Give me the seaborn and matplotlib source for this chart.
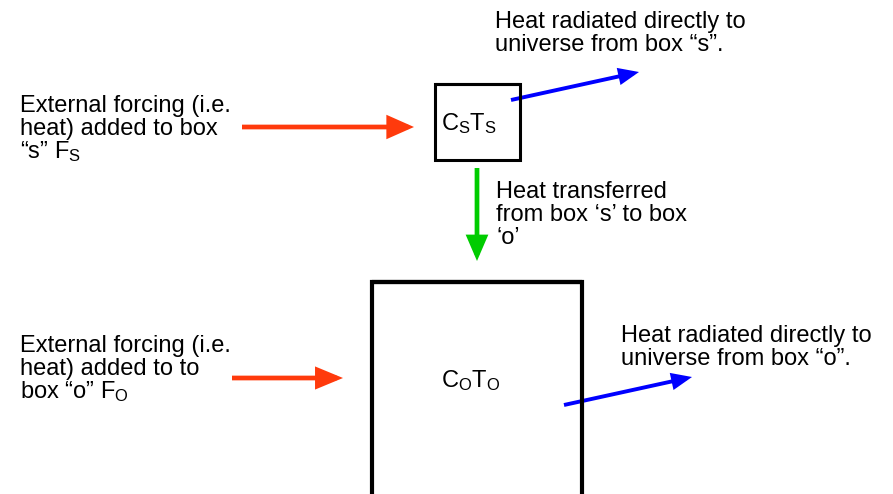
import matplotlib
matplotlib.use("Agg")
import matplotlib.pyplot as plt
import seaborn as sns
from matplotlib.patches import FancyArrowPatch

# diagram content (pixel coordinates of the 893x494 canvas)
box_names = ["s", "o"]
box_rects = [(434.5, 84.5, 85, 76), (372, 282, 210, 240)]
box_widths = [2.2, 3.0]
box_labels = [r"$\mathrm{C_ST_S}$", r"$\mathrm{C_OT_O}$"]
box_label_pos = [(441, 130), (441, 387)]

arrow_starts = [(242, 127), (232, 378), (477, 168), (511, 100), (564, 405)]
arrow_ends = [(414, 127), (343, 378), (477, 261), (639, 72), (692, 377)]
arrow_colors = ["#ff3a0c", "#ff3a0c", "#00cc00", "#0000ff", "#0000ff"]
arrow_lw = [3.4, 3.4, 3.4, 2.8, 2.8]
arrow_heads = [(14, 6.2), (14, 5.8), (13, 5.6), (10, 4.2), (10, 4.2)]

text_lines = [
    ["External forcing (i.e.", "heat) added to box", r"“s” $\mathrm{F_S}$"],
    ["External forcing (i.e.", "heat) added to to", r"box “o” $\mathrm{F_O}$"],
    ["Heat radiated directly to", "universe from box “s”."],
    ["Heat transferred", "from box ‘s’ to box", "‘o’"],
    ["Heat radiated directly to", "universe from box “o”."],
]
text_origin = [(20, 112), (20, 352), (495, 28), (496, 198), (621, 342)]
line_step = 23

sns.set_theme(style="white")
plt.rcParams["font.family"] = ["Liberation Sans", "DejaVu Sans"]
plt.rcParams["mathtext.fontset"] = "custom"
plt.rcParams["mathtext.rm"] = "Liberation Sans"
plt.rcParams["mathtext.it"] = "Liberation Sans:italic"
plt.rcParams["mathtext.bf"] = "Liberation Sans:bold"

fig = plt.figure(figsize=(8.93, 4.94), dpi=100)
ax = fig.add_axes([0, 0, 1, 1])
ax.set_xlim(0, 893)
ax.set_ylim(494, 0)
ax.axis("off")

# boxes as polylines; the first side is repeated so every corner gets a proper join
for (x, y, w, h), lw in zip(box_rects, box_widths):
    xs = [x, x + w, x + w, x, x, x + w]
    ys = [y, y, y + h, y + h, y, y]
    ax.plot(xs, ys, color="black", lw=lw, solid_joinstyle="miter")

for lab, (x, y) in zip(box_labels, box_label_pos):
    ax.text(x, y, lab, fontsize=17, ha="left", va="baseline", color="black")

for s, e, c, lw, (hl, hw) in zip(arrow_starts, arrow_ends, arrow_colors, arrow_lw, arrow_heads):
    arr = FancyArrowPatch(s, e, arrowstyle=f"-|>,head_length={hl},head_width={hw}",
                          mutation_scale=1, color=c, lw=lw, shrinkA=0, shrinkB=0,
                          joinstyle="miter", capstyle="butt")
    ax.add_patch(arr)

for lines, (x, y) in zip(text_lines, text_origin):
    for i, line in enumerate(lines):
        ax.text(x, y + i * line_step, line, fontsize=17, ha="left", va="baseline",
                color="black")

fig.savefig("out.png", dpi=100, facecolor="white")
